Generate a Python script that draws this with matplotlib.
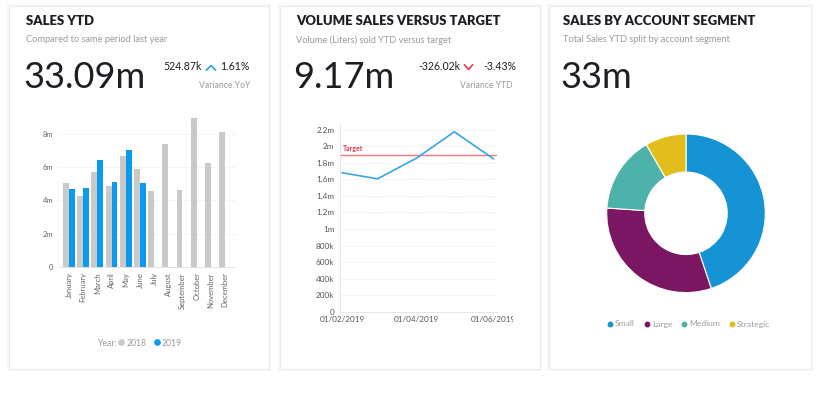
import matplotlib
matplotlib.use("Agg")
import matplotlib.pyplot as plt
import matplotlib.dates as mdates
from matplotlib.patches import Rectangle
from matplotlib.lines import Line2D
from matplotlib.ticker import FuncFormatter
import numpy as np
import datetime as dt

plt.rcParams['font.family'] = ['Lato', 'DejaVu Sans']

# --- data ---
months = ["January", "February", "March", "April", "May", "June", "July",
          "August", "September", "October", "November", "December"]
sales_2018 = [5.03, 4.26, 5.69, 4.88, 6.67, 5.90, 4.58, 7.38, 4.60, 8.94, 6.23, 8.14]
sales_2019 = [4.70, 4.72, 6.45, 5.10, 7.03, 5.05]

vol_dates = [dt.date(2019, 2, 1), dt.date(2019, 3, 1), dt.date(2019, 4, 1),
             dt.date(2019, 5, 1), dt.date(2019, 6, 1)]
vol_values = [1.68e6, 1.607e6, 1.857e6, 2.176e6, 1.85e6]
vol_target = 1.9e6

segments = ["Small", "Large", "Medium", "Strategic"]
segment_sales = [14.8, 10.3, 5.15, 2.75]

W, H = 840, 407
GRAY = "#c9c9c9"
BLUE = "#0a9bef"
TXT = "#1d1f24"
SUB = "#9a9a9a"
seg_colors = ["#1593d5", "#7b1762", "#4cb2aa", "#e2bd1b"]

fig = plt.figure(figsize=(W / 100, H / 100), dpi=100)
fig.patch.set_facecolor("white")


def fx(x):
    return x / W


def fy(y):
    return 1 - y / H


def rect(l, t, r, b):
    return [fx(l), fy(b), (r - l) / W, (b - t) / H]


# cards
for l, r in [(9, 269), (280, 540), (549, 811)]:
    fig.add_artist(Rectangle((fx(l - 2), fy(371)), (r - l + 4) / W, 367 / H,
                             transform=fig.transFigure, facecolor="#f6f7f8",
                             edgecolor="none", zorder=-2))
    fig.add_artist(Rectangle((fx(l), fy(369)), (r - l) / W, 363 / H,
                             transform=fig.transFigure, facecolor="white",
                             edgecolor="#ececec", lw=0.8, zorder=-1))


def header(x0, title, subtitle, big):
    fig.text(fx(x0), fy(21), title, fontsize=9.45, fontweight="heavy", color=TXT, va="center")
    fig.text(fx(x0), fy(40), subtitle, fontsize=6.7, color=SUB, va="center")
    fig.text(fx(x0 - 3), fy(77), big, fontsize=26, color=TXT, va="center")


header(26, "SALES YTD", "Compared to same period last year", "33.09m")
header(296, "VOLUME SALES VERSUS TARGET", "Volume (Liters) sold YTD versus target", "9.17m")
header(563, "SALES BY ACCOUNT SEGMENT", "Total Sales YTD split by account segment", "33m")

# variance blocks
fig.text(fx(202), fy(67), "524.87k", fontsize=7.6, color=TXT, va="center", ha="right")
fig.add_artist(Line2D([fx(206.5), fx(211), fx(215.5)], [fy(70), fy(65.5), fy(70)],
                      transform=fig.transFigure, color="#2aa3ea", lw=1.2))
fig.text(fx(250), fy(67), "1.61%", fontsize=7.6, color=TXT, va="center", ha="right")
fig.text(fx(250), fy(85), "Variance YoY", fontsize=6.2, color=SUB, va="center", ha="right")

fig.text(fx(460), fy(67), "-326.02k", fontsize=7.6, color=TXT, va="center", ha="right")
fig.add_artist(Line2D([fx(464.5), fx(468.5), fx(472.5)], [fy(65), fy(69.5), fy(65)],
                      transform=fig.transFigure, color="#e8344e", lw=1.2))
fig.text(fx(516), fy(67), "-3.43%", fontsize=7.6, color=TXT, va="center", ha="right")
fig.text(fx(513), fy(85), "Variance YTD", fontsize=6.2, color=SUB, va="center", ha="right")

# --- bar chart ---
ax1 = fig.add_axes(rect(59, 115.8, 235, 266.7))
x = np.arange(len(months))
bw = 0.42
ax1.bar(x - bw / 2, sales_2018, width=bw, color=GRAY, zorder=2)
ax1.bar(x[:len(sales_2019)] + bw / 2, sales_2019, width=bw, color=BLUE, zorder=2)
ax1.set_xlim(-0.7, 11.7)
ax1.set_ylim(0, 9.1)
ax1.set_yticks([0, 2, 4, 6, 8])
ax1.yaxis.set_major_formatter(FuncFormatter(lambda v, p: "0" if v == 0 else f"{v:g}m"))
ax1.set_xticks(x)
ax1.set_xticklabels(months, rotation=90)
ax1.tick_params(axis="both", length=0, labelsize=5.5, colors="#666666", pad=4)
ax1.grid(axis="y", color="#dddddd", linestyle=(0, (1, 2)), lw=0.6, zorder=0)
for s in ["top", "right", "left"]:
    ax1.spines[s].set_visible(False)
ax1.spines["bottom"].set_color("#dddddd")
ax1.spines["bottom"].set_linewidth(0.6)

fig.text(fx(117), fy(343), "Year:", fontsize=6.2, color=SUB, va="center", ha="right")
h1 = [Line2D([], [], marker="o", ls="", color=GRAY, markersize=3.8),
      Line2D([], [], marker="o", ls="", color=BLUE, markersize=3.8)]
leg1 = fig.legend(h1, ["2018", "2019"], ncol=2, frameon=False, fontsize=6.2,
                  loc="center left", bbox_to_anchor=(fx(117), fy(343)),
                  handletextpad=0.1, columnspacing=0.7, handlelength=1.0,
                  borderpad=0, borderaxespad=0)
for t in leg1.get_texts():
    t.set_color(SUB)

# --- line chart ---
ax2 = fig.add_axes(rect(340, 124, 497, 311.7))
dnum = mdates.date2num(vol_dates)
ax2.plot(dnum, vol_values, color="#36a5ea", lw=1.2, zorder=3)
ax2.axhline(vol_target, color="#f07a7f", lw=1.0, zorder=2)
ax2.text(dnum[0] + 0.5, vol_target + 0.035e6, "Target", fontsize=5, color="#e8344e",
         fontweight="bold", va="bottom")
ax2.set_xlim(dnum[0] - 1.8, dnum[-1] + 2.9)
ax2.set_ylim(0, 2.27e6)
ax2.set_yticks(np.arange(0, 2.3e6, 0.2e6))


def vol_fmt(v, p):
    if v == 0:
        return "0"
    if v < 1e6 - 1:
        return f"{v / 1e3:.0f}k"
    return f"{v / 1e6:g}m"


ax2.yaxis.set_major_formatter(FuncFormatter(vol_fmt))
ax2.set_xticks([dnum[0], dnum[2], dnum[4]])
ax2.xaxis.set_major_formatter(mdates.DateFormatter("%d/%m/%Y"))
ax2.tick_params(axis="y", length=0, labelsize=5.9, colors="#555555", pad=4)
ax2.tick_params(axis="x", length=2, width=0.5, color="#dddddd", labelsize=5.9,
                colors="#555555", pad=1)
ax2.grid(axis="y", color="#dddddd", linestyle=(0, (1, 2)), lw=0.6, zorder=0)
for s in ["top", "right"]:
    ax2.spines[s].set_visible(False)
for s in ["left", "bottom"]:
    ax2.spines[s].set_color("#e2e2e2")
    ax2.spines[s].set_linewidth(0.6)

# last date label is cut at the chart edge in the original
fig.canvas.draw()
clip = matplotlib.transforms.Bbox.from_extents(0, 0, 513, H)
for lab in ax2.get_xticklabels():
    lab.set_clip_on(True)
    lab.set_clip_box(clip)

# --- donut ---
R = 79.3
ax3 = fig.add_axes(rect(686 - R, 213.3 - R, 686 + R, 213.3 + R))
ax3.pie(segment_sales, colors=seg_colors, startangle=90, counterclock=False,
        radius=1, wedgeprops=dict(width=0.48, edgecolor="white", linewidth=0.8))
ax3.set_xlim(-1, 1)
ax3.set_ylim(-1, 1)
ax3.set_aspect("equal")
ax3.axis("off")

h3 = [Line2D([], [], marker="o", ls="", color=c, markersize=3.2) for c in seg_colors]
leg3 = fig.legend(h3, segments, ncol=4, frameon=False, fontsize=6.1,
                  loc="center", bbox_to_anchor=(fx(688), fy(324)),
                  handletextpad=0.1, columnspacing=0.9, handlelength=1.0,
                  borderpad=0, borderaxespad=0)
for t in leg3.get_texts():
    t.set_color(SUB)

fig.savefig("out.png", dpi=100)
